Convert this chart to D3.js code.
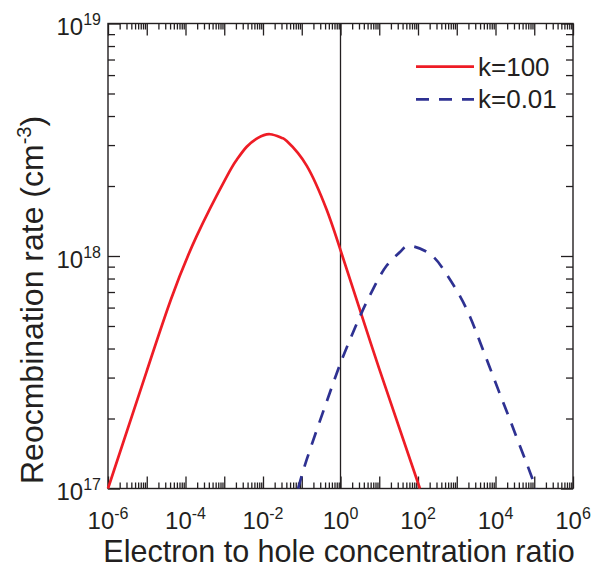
<!DOCTYPE html>
<html lang="en">
<head>
    <meta charset="UTF-8">
    <title>Recombination rate vs electron to hole concentration ratio</title>
    <script src="https://d3js.org/d3.v7.min.js"></script>
    <style>
        body { margin: 0; background: #fff; }
        text { font-family: "Liberation Sans", Arial, sans-serif; fill: #231f20; }
        .tick line { stroke: #231f20; stroke-width: 1.3; }
    </style>
</head>
<body>
<div id="chart"></div>

<script>
    // data
    const redRatio = [1e-6, 1e-5, 4.2e-5, 1.95e-4, 1.15e-3, 2.09e-3, 3.8e-3, 7.43e-3, 1.52e-2, 3.09e-2, 4.1e-2, 0.135, 0.44, 1, 10, 112];
    const redRate  = [1.0e17, 3.2e17, 6.5e17, 1.22e18, 2.19e18, 2.59e18, 2.95e18, 3.22e18, 3.34e18, 3.22e18, 3.12e18, 2.44e18, 1.58e18, 1.06e18, 3.27e17, 1.0e17];

    const blueRatio = [0.081, 0.134, 0.40, 1, 1.95, 3.52, 7.03, 15.6, 34.3, 61.7, 204, 498, 1096, 2198, 3980, 7000, 12300, 21640, 38100, 67000, 110900];
    const blueRate  = [1.0e17, 1.33e17, 2.26e17, 3.46e17, 4.55e17, 5.71e17, 7.24e17, 9.1e17, 1.04e18, 1.105e18, 1.02e18, 8.55e17, 6.92e17, 5.48e17, 4.27e17, 3.34e17, 2.61e17, 2.05e17, 1.6e17, 1.255e17, 1.0e17];

    const seriesNames = ["k=100", "k=0.01"];
    const xLabelExps = [-6, -4, -2, 0, 2, 4, 6];
    const yLabelExps = [17, 18, 19];

    const svg = d3.select("#chart").append("svg").attr("width", 600).attr("height", 568);
    const margin = { top: 23.5, right: 27, bottom: 79.5, left: 108 };
    const width = 600 - margin.left - margin.right;
    const height = 568 - margin.top - margin.bottom;

    const x = d3.scaleLog().domain([1e-6, 1e6]).range([margin.left, margin.left + width]);
    const y = d3.scaleLog().domain([1e17, 1e19]).range([margin.top + height, margin.top]);

    // major + minor ticks
    function decadeTicks(lo, hi) {
        const major = [], minor = [];
        for (let e = lo; e <= hi; e++) {
            major.push(Math.pow(10, e));
            if (e < hi) for (let m = 2; m <= 9; m++) minor.push(m * Math.pow(10, e));
        }
        return { major, minor };
    }
    const xt = decadeTicks(-6, 6);
    const yt = decadeTicks(17, 19);

    function drawAxis(axisFn, scale, pos, ticks, size) {
        const g = svg.append("g").attr("transform", pos)
            .call(axisFn(scale).tickValues(ticks).tickSizeInner(-size).tickSizeOuter(0).tickFormat(""));
        g.select(".domain").remove();
    }
    [[xt.major, 12], [xt.minor, 6]].forEach(([t, s]) => {
        drawAxis(d3.axisBottom, x, `translate(0,${margin.top + height})`, t, s);
        drawAxis(d3.axisTop, x, `translate(0,${margin.top})`, t, s);
    });
    [[yt.major, 12], [yt.minor, 7]].forEach(([t, s]) => {
        drawAxis(d3.axisLeft, y, `translate(${margin.left},0)`, t, s);
        drawAxis(d3.axisRight, y, `translate(${margin.left + width},0)`, t, s);
    });

    // frame
    svg.append("rect")
        .attr("x", margin.left).attr("y", margin.top)
        .attr("width", width).attr("height", height)
        .attr("fill", "none").attr("stroke", "#231f20").attr("stroke-width", 1.4);

    // vertical line at ratio = 1
    svg.append("line")
        .attr("x1", x(1)).attr("x2", x(1))
        .attr("y1", margin.top).attr("y2", margin.top + height)
        .attr("stroke", "#231f20").attr("stroke-width", 1.3);

    // tick labels with superscripts
    function powerLabel(sel, exp) {
        sel.append("tspan").text("10");
        sel.append("tspan").attr("dy", -10).attr("font-size", 16).text(exp < 0 ? "-" + (-exp) : exp);
    }
    xLabelExps.forEach(e => {
        svg.append("text")
            .attr("x", x(Math.pow(10, e))).attr("y", margin.top + height + 40)
            .attr("text-anchor", "middle").attr("font-size", 24)
            .call(powerLabel, e);
    });
    yLabelExps.forEach(e => {
        svg.append("text")
            .attr("x", 101).attr("y", y(Math.pow(10, e)) + 11.5)
            .attr("text-anchor", "end").attr("font-size", 24)
            .call(powerLabel, e);
    });

    // axis titles
    svg.append("text")
        .attr("x", (103 + 575) / 2).attr("y", 562)
        .attr("text-anchor", "middle").attr("font-size", 30.5)
        .text("Electron to hole concentration ratio");

    const yTitle = svg.append("text")
        .attr("transform", "translate(43,484) rotate(-90)")
        .attr("font-size", 32);
    yTitle.append("tspan").text("Reocmbination rate (cm");
    yTitle.append("tspan").attr("dy", -12).attr("font-size", 20).text("-3");
    yTitle.append("tspan").attr("dy", 12).text(")");

    // curves
    const line = d3.line()
        .x(d => x(d[0]))
        .y(d => y(d[1]))
        .curve(d3.curveNatural);

    const plot = svg.append("g");
    plot.append("path")
        .datum(d3.zip(redRatio, redRate))
        .attr("d", line)
        .attr("fill", "none").attr("stroke", "#ee1c25").attr("stroke-width", 2.7);

    plot.append("path")
        .datum(d3.zip(blueRatio, blueRate))
        .attr("d", line)
        .attr("fill", "none").attr("stroke", "#2e3192").attr("stroke-width", 2.7)
        .attr("stroke-dasharray", "13,10");

    // legend
    const legend = svg.append("g");
    const legendStyles = [
        { color: "#ee1c25", dash: null, y: 66.7 },
        { color: "#2e3192", dash: "13,10", y: 99.3 }
    ];
    seriesNames.forEach((name, i) => {
        const s = legendStyles[i];
        legend.append("line")
            .attr("x1", 416).attr("x2", 474).attr("y1", s.y).attr("y2", s.y)
            .attr("stroke", s.color).attr("stroke-width", 2.7)
            .attr("stroke-dasharray", s.dash);
        legend.append("text")
            .attr("x", 478).attr("y", s.y + 9)
            .attr("font-size", 26)
            .text(name);
    });
</script>
</body>
</html>
